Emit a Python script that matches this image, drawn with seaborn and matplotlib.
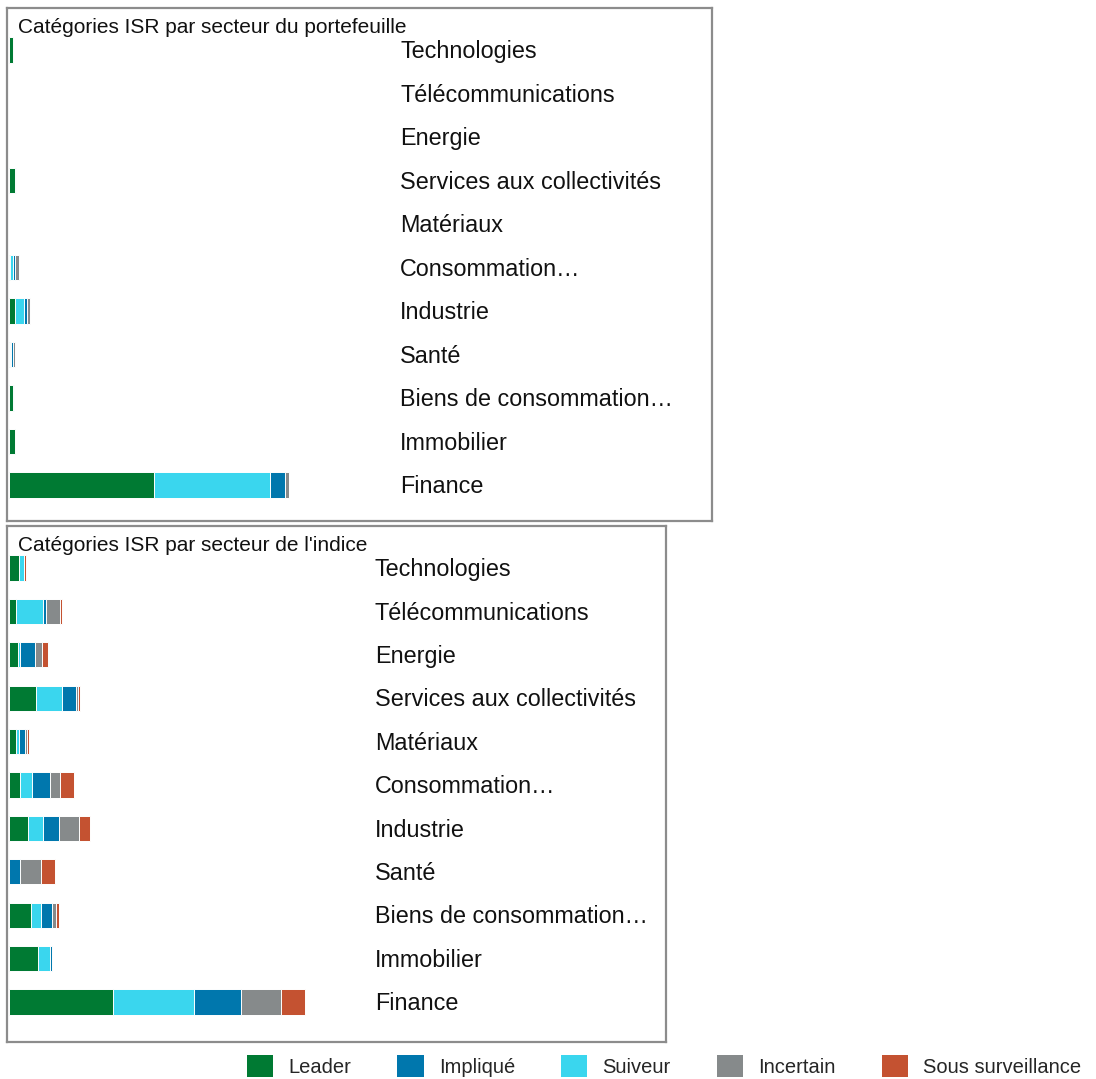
import numpy as np
import pandas as pd
import matplotlib
matplotlib.use("Agg")
import matplotlib.pyplot as plt
from matplotlib.patches import Patch
import matplotlib.transforms as mtransforms
import seaborn as sns

sns.set_theme(style="white")
plt.rcParams['font.family'] = ['Liberation Sans', 'DejaVu Sans']

secteurs = ["Technologies", "Télécommunications", "Energie", "Services aux collectivités",
            "Matériaux", "Consommation…", "Industrie", "Santé",
            "Biens de consommation…", "Immobilier", "Finance"]

# ordre d'empilement : Leader, Suiveur, Impliqué, Incertain, Sous surveillance
ptf_leader = [0.45, 0, 0, 0.7, 0, 0.15, 0.8, 0.1, 0.45, 0.8, 18.5]
ptf_suiveur = [0, 0, 0, 0.25, 0, 0.3, 1.15, 0.1, 0.2, 0, 14.85]
ptf_implique = [0, 0, 0, 0, 0, 0.3, 0.3, 0.35, 0, 0, 1.95]
ptf_incertain = [0, 0, 0, 0, 0, 0.5, 0.4, 0.2, 0, 0, 0.6]
ptf_surv = [0, 0, 0, 0, 0, 0, 0, 0, 0, 0, 0]

idx_leader = [1.3, 0.9, 1.1, 3.5, 0.9, 1.4, 2.4, 0.05, 2.8, 3.75, 13.4]
idx_suiveur = [0.6, 3.4, 0.25, 3.35, 0.4, 1.6, 1.95, 0, 1.3, 1.5, 10.35]
idx_implique = [0, 0.4, 1.95, 1.8, 0.8, 2.2, 2.05, 1.4, 1.4, 0.2, 5.95]
idx_incertain = [0, 1.8, 0.9, 0.25, 0.2, 1.4, 2.6, 2.7, 0.5, 0, 5.15]
idx_surv = [0.25, 0.25, 0.75, 0.25, 0.2, 1.7, 1.4, 1.8, 0.4, 0, 3.1]

categories = ["Leader", "Suiveur", "Impliqué", "Incertain", "Sous surveillance"]
couleurs = {"Leader": "#007A33", "Suiveur": "#3AD6EE", "Impliqué": "#0077AD",
            "Incertain": "#868A8B", "Sous surveillance": "#C45231"}
legende_ordre = ["Leader", "Impliqué", "Suiveur", "Incertain", "Sous surveillance"]


def stacked(ax, series, titre, xmax, ylim):
    df = pd.DataFrame(dict(zip(categories, series)), index=secteurs)
    cum = df.cumsum(axis=1)
    # on dessine du plus long au plus court pour obtenir l'empilement
    for cat in reversed(categories):
        sns.barplot(x=cum[cat].values, y=secteurs, orient="h", color=couleurs[cat],
                    saturation=1, width=0.58, edgecolor="white", linewidth=0.7, ax=ax)
    ax.set_xlim(-0.26, xmax)
    ax.set_ylim(*ylim)
    ax.set_xticks([])
    ax.set_yticks([])
    ax.set_xlabel("")
    ax.set_ylabel("")
    for s in ax.spines.values():
        s.set_visible(True)
        s.set_color("#8C8C8C")
        s.set_linewidth(1.6)
    trans = mtransforms.blended_transform_factory(ax.transAxes, ax.transData)
    for i, nom in enumerate(secteurs):
        ax.text(0.558, i + 0.04, nom, transform=trans, ha="left", va="center",
                fontsize=16.8, color="#111111")
    ax.text(0.016, 0.963, titre, transform=ax.transAxes, ha="left", va="center",
            fontsize=15, color="#111111")


fig = plt.figure(figsize=(10.96, 10.79), dpi=100)
ax1 = fig.add_axes([0.0064, 0.5171, 0.6432, 0.4754])
ax2 = fig.add_axes([0.0064, 0.0343, 0.6013, 0.4782])

stacked(ax1, [ptf_leader, ptf_suiveur, ptf_implique, ptf_incertain, ptf_surv],
        "Catégories ISR par secteur du portefeuille", 90.0, (10.83, -0.966))
stacked(ax2, [idx_leader, idx_suiveur, idx_implique, idx_incertain, idx_surv],
        "Catégories ISR par secteur de l'indice", 84.3, (10.92, -0.967))

handles = [Patch(facecolor=couleurs[c], edgecolor="none", label=c) for c in legende_ordre]
fig.legend(handles=handles, loc="center", bbox_to_anchor=(0.606, 0.012), ncol=5,
           frameon=False, fontsize=14.5, handlelength=1.3, handleheight=1.3,
           columnspacing=2.3, handletextpad=0.75, borderaxespad=0, borderpad=0)

fig.savefig("out.png", dpi=100)
